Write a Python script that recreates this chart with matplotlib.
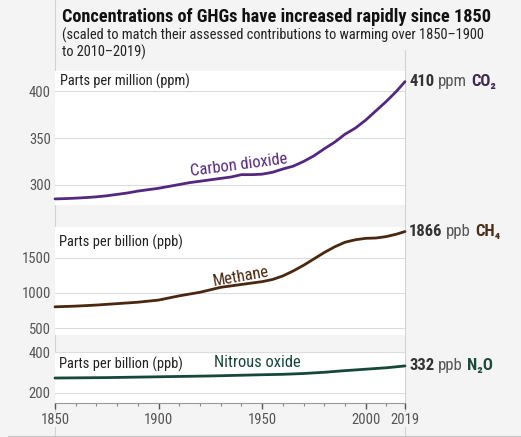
import matplotlib
matplotlib.use("Agg")
import matplotlib.pyplot as plt
from matplotlib.lines import Line2D

plt.rcParams["font.family"] = ["Roboto Condensed", "Fira Sans Condensed",
                               "Asap Condensed", "Archivo Narrow",
                               "Liberation Sans", "DejaVu Sans"]

# Atmospheric concentrations, 1850-2019
co2_years = [1850, 1855, 1860, 1865, 1870, 1875, 1880, 1885, 1890, 1895,
             1900, 1905, 1910, 1915, 1920, 1925, 1930, 1935, 1940, 1945,
             1950, 1955, 1960, 1965, 1970, 1975, 1980, 1985, 1990, 1995,
             2000, 2005, 2010, 2015, 2019]
co2_ppm = [285.2, 285.5, 286.0, 286.6, 287.4, 288.5, 290.0, 291.5, 293.5, 295.0,
           296.5, 298.5, 300.5, 302.5, 304.0, 305.5, 307.0, 308.5, 311.0, 311.0,
           311.5, 313.5, 317.0, 320.0, 325.0, 331.0, 338.5, 345.5, 354.0, 360.5,
           369.0, 379.0, 389.0, 400.0, 410.0]

ch4_years = [1850, 1860, 1870, 1880, 1890, 1900, 1910, 1920, 1930, 1940,
             1950, 1955, 1960, 1965, 1970, 1975, 1980, 1985, 1990, 1995,
             2000, 2005, 2010, 2015, 2019]
ch4_ppb = [805, 815, 830, 850, 870, 900, 960, 1010, 1080, 1120,
           1160, 1190, 1240, 1310, 1390, 1480, 1570, 1650, 1715, 1750,
           1770, 1775, 1795, 1830, 1866]

n2o_years = [1850, 1875, 1900, 1925, 1950, 1960, 1970, 1980, 1990, 2000, 2010, 2019]
n2o_ppb = [273, 275, 279, 283, 289, 291, 295, 301, 309, 316, 323, 332]

year_ticks = [1850, 1900, 1950, 2000, 2019]

W, H = 521, 437
BG = "#f4f4f4"
GRID = "#dcdcdc"
TICK = "#555555"

CO2_COL = "#55287f"
CH4_COL = "#4a2810"
N2O_COL = "#17473a"


def box(left, top, right, bottom):
    return [left / W, 1 - bottom / H, (right - left) / W, (bottom - top) / H]


def fit(txt, width_px):
    # rescale a text so its rendered width comes out at width_px
    r = txt.figure.canvas.get_renderer()
    w = txt.get_window_extent(r).width
    txt.set_fontsize(txt.get_fontsize() * width_px / w)
    return txt


def panel(fig, rect, ylim, yticks):
    ax = fig.add_axes(rect)
    ax.set_facecolor("white")
    ax.set_xlim(1850, 2019)
    ax.set_ylim(*ylim)
    ax.set_yticks(yticks)
    ax.grid(axis="y", color=GRID, lw=0.8)
    ax.set_axisbelow(True)
    for s in ax.spines.values():
        s.set_visible(False)
    ax.tick_params(axis="y", length=0, pad=3, labelsize=10.5, labelcolor=TICK)
    ax.tick_params(axis="x", bottom=False, labelbottom=False)
    return ax


def end_label(ax, x, y, value, unit, gas, col, size=12):
    a = ax.annotate(value, xy=(x, y), xytext=(3, 0), textcoords="offset points",
                    ha="left", va="center", fontsize=size, fontweight="bold",
                    color="#333333", annotation_clip=False)
    b = ax.annotate(unit, xy=(1, 0), xycoords=a, xytext=(2.5, 0),
                    textcoords="offset points", ha="left", va="bottom",
                    fontsize=size, color="#555555")
    ax.annotate(gas, xy=(1, 0), xycoords=b, xytext=(3, 0),
                textcoords="offset points", ha="left", va="bottom",
                fontsize=size, fontweight="bold", color=col)


fig = plt.figure(figsize=(W / 100, H / 100), dpi=100, facecolor=BG)

ax1 = panel(fig, box(55, 71, 405, 205), (278.7, 421.3), [300, 350, 400])
ax2 = panel(fig, box(55, 227, 405, 335), (408, 1930), [500, 1000, 1500])
ax3 = panel(fig, box(55, 352, 405, 403), (151, 400), [200, 400])

ax1.plot(co2_years, co2_ppm, color=CO2_COL, lw=2.0, solid_capstyle="round", clip_on=False)
ax2.plot(ch4_years, ch4_ppb, color=CH4_COL, lw=2.0, solid_capstyle="round", clip_on=False)
ax3.plot(n2o_years, n2o_ppb, color=N2O_COL, lw=2.0, solid_capstyle="round", clip_on=False)

# unit captions inside each panel
cap1 = ax1.text(0.015, 0.92, "Parts per million (ppm)", transform=ax1.transAxes,
                ha="left", va="center", fontsize=10, color="#222222")
cap2 = ax2.text(0.012, 0.86, "Parts per billion (ppb)", transform=ax2.transAxes,
                ha="left", va="center", fontsize=10, color="#222222")
cap3 = ax3.text(0.012, 0.76, "Parts per billion (ppb)", transform=ax3.transAxes,
                ha="left", va="center", fontsize=10, color="#222222")
fit(cap1, 130)
fit(cap2, 124)
fit(cap3, 124)

# gas names along the curves
lab1 = ax1.text(1939, 321, "Carbon dioxide", rotation=7.5, ha="center", va="center",
                fontsize=11, color=CO2_COL, rotation_mode="anchor")
lab2 = ax2.text(1940, 1225, "Methane", rotation=10, ha="center", va="center",
                fontsize=11, color=CH4_COL, rotation_mode="anchor")
lab3 = ax3.text(1947.5, 347, "Nitrous oxide", ha="center", va="center",
                fontsize=11, color=N2O_COL)
fit(lab3, 87)
lab1.set_fontsize(lab3.get_fontsize())
lab2.set_fontsize(lab3.get_fontsize())

end_label(ax1, co2_years[-1], co2_ppm[-1], "410", "ppm", "CO₂", "#3d2a52")
end_label(ax2, ch4_years[-1], ch4_ppb[-1], "1866", "ppb", "CH₄", "#4a2e18")
end_label(ax3, n2o_years[-1], n2o_ppb[-1], "332", "ppb", "N₂O", "#1c4a3c")

# shared time axis at the bottom
ax3.spines["bottom"].set_visible(True)
ax3.spines["bottom"].set_color("#999999")
ax3.set_xticks(year_ticks)
ax3.set_xticks(range(1860, 2019, 10), minor=True)
ax3.tick_params(axis="x", bottom=True, labelbottom=True, direction="out",
                length=4, width=1, color="#555555", labelsize=10.5,
                labelcolor=TICK, pad=3)
ax3.tick_params(axis="x", which="minor", bottom=True, length=2, width=0.8,
                color="#888888")
for t in ax3.get_xticklabels():
    t.set_bbox(dict(facecolor=BG, edgecolor="none", pad=0.5))

# frame lines around the chart area, kept behind the panels
for xs, ys, c in [([55 / W, 55 / W], [0, 1], "#d2d2d2"),
                  ([405 / W, 405 / W], [0, 1 - 50 / H], "#d2d2d2"),
                  ([8 / W, 1], [1 - 436 / H, 1 - 436 / H], "#c8c8c8")]:
    fig.add_artist(Line2D(xs, ys, color=c, lw=0.8, zorder=-1))

title = fig.text(62 / W, 1 - 17 / H,
                 "Concentrations of GHGs have increased rapidly since 1850",
                 ha="left", va="center", fontsize=12, fontweight="bold", color="#111111")
sub1 = fig.text(62 / W, 1 - 35 / H,
                "(scaled to match their assessed contributions to warming over 1850–1900",
                ha="left", va="center", fontsize=10.5, color="#222222")
fit(title, 430)
fit(sub1, 427)
fig.text(62 / W, 1 - 52 / H, "to 2010–2019)",
         ha="left", va="center", fontsize=sub1.get_fontsize(), color="#222222")

fig.savefig("out.png", dpi=100, facecolor=BG)
